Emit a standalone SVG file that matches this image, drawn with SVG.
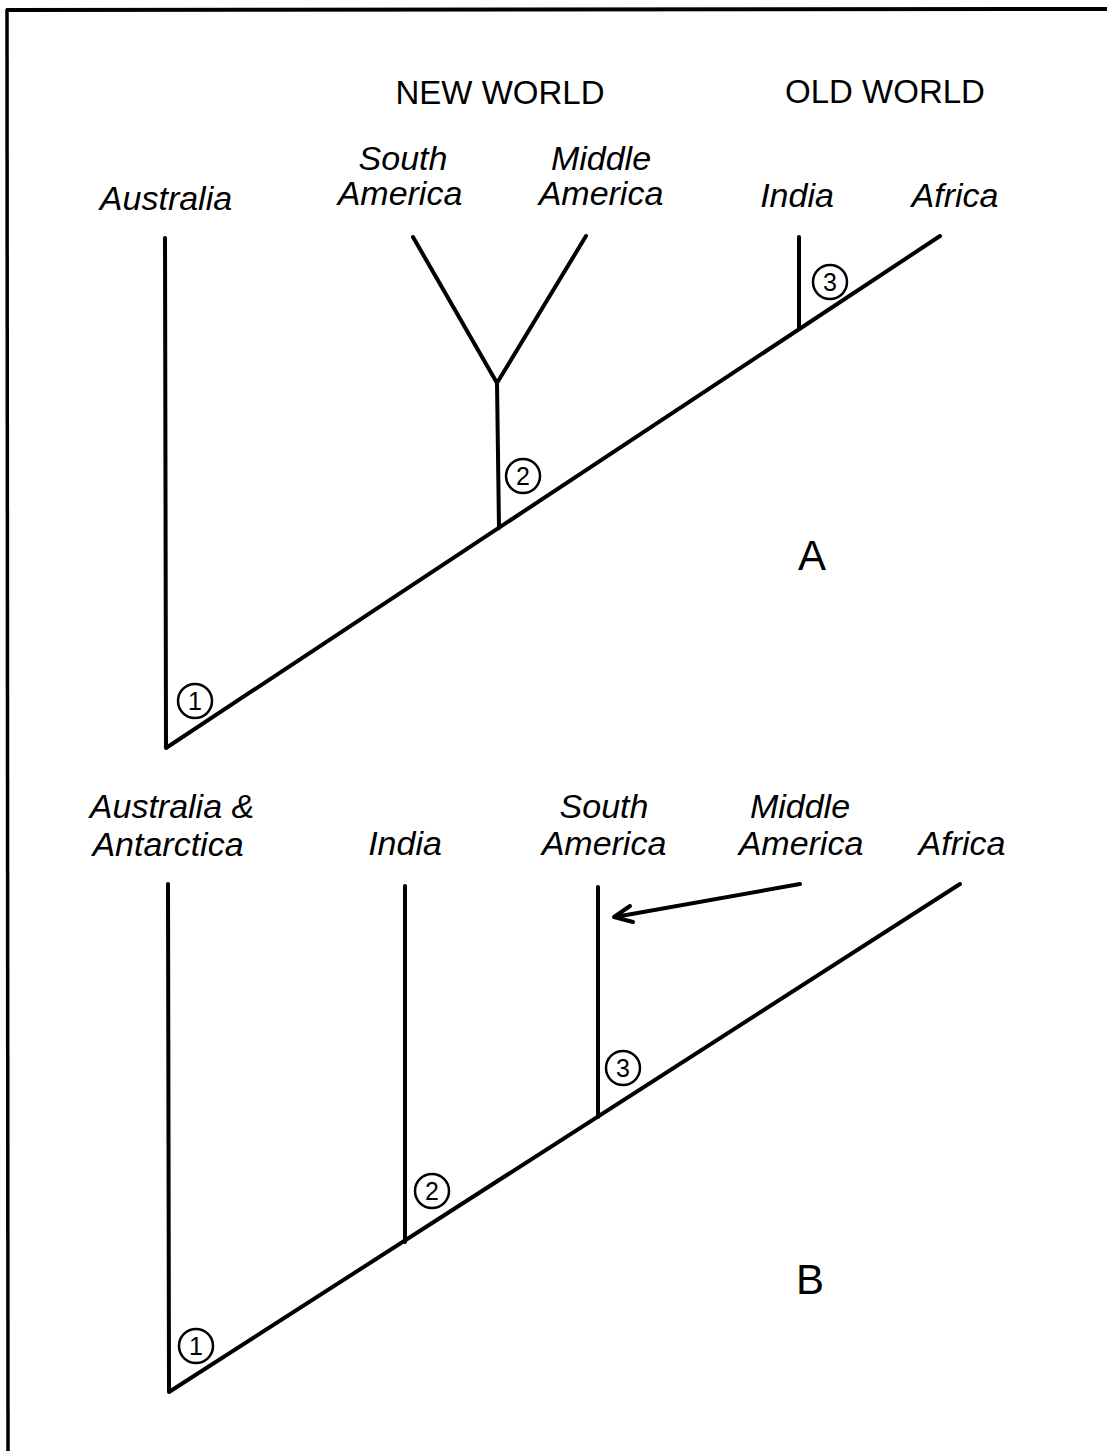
<svg xmlns="http://www.w3.org/2000/svg" width="1107" height="1451" viewBox="0 0 1107 1451">
<defs>
<style>
.ln{stroke:#000;stroke-width:4;fill:none;stroke-linecap:round;stroke-linejoin:round}
.c{stroke:#000;stroke-width:2.5;fill:#fff}
.t{font-family:"Liberation Sans",Arial,sans-serif;font-size:34px;font-style:italic;text-anchor:middle;fill:#000}
.h{font-family:"Liberation Sans",Arial,sans-serif;font-size:33px;text-anchor:middle;fill:#000}
.big{font-family:"Liberation Sans",Arial,sans-serif;font-size:42px;text-anchor:middle;fill:#000}
.n{font-family:"Liberation Sans",Arial,sans-serif;font-size:25px;text-anchor:middle;fill:#000}
</style>
</defs>
<rect width="1107" height="1451" fill="#fff"/>
<g id="frame">
<line x1="6" y1="10" x2="1107" y2="9" stroke="#000" stroke-width="4"/>
<line x1="7" y1="9" x2="8" y2="1451" stroke="#000" stroke-width="3.5"/>
</g>
<g id="connectors">
<path class="ln" d="M165,238 L166,748 L940,236"/>
<path class="ln" d="M499,528 L497,383"/>
<path class="ln" d="M413,237 L497,383 L586,236"/>
<path class="ln" d="M799,329 L799,237"/>
<path class="ln" d="M168,884 L169,1392 L960,884"/>
<path class="ln" d="M405,1242 L405,886"/>
<path class="ln" d="M598,1117 L598,887"/>
<path class="ln" d="M800,884 L615,917"/>
<path class="ln" d="M630,906 L614,917 L633,922"/>
</g>
<g id="labelsA">
<text class="h" x="500" y="104">NEW WORLD</text>
<text class="h" x="885" y="103">OLD WORLD</text>
<text class="t" x="166" y="210">Australia</text>
<text class="t" x="403" y="170">South</text>
<text class="t" x="400" y="205">America</text>
<text class="t" x="601" y="170">Middle</text>
<text class="t" x="601" y="205">America</text>
<text class="t" x="797" y="207">India</text>
<text class="t" x="955" y="207">Africa</text>
<text class="big" x="812" y="570">A</text>
</g>
<g id="node-A1"><circle class="c" cx="195" cy="701" r="17"/><text class="n" x="195" y="710">1</text></g>
<g id="node-A2"><circle class="c" cx="523" cy="476" r="17"/><text class="n" x="523" y="485">2</text></g>
<g id="node-A3"><circle class="c" cx="830" cy="282" r="17"/><text class="n" x="830" y="291">3</text></g>
<g id="labelsB">
<text class="t" x="172" y="818">Australia &amp;</text>
<text class="t" x="168" y="856">Antarctica</text>
<text class="t" x="405" y="855">India</text>
<text class="t" x="604" y="818">South</text>
<text class="t" x="604" y="855">America</text>
<text class="t" x="800" y="818">Middle</text>
<text class="t" x="801" y="855">America</text>
<text class="t" x="962" y="855">Africa</text>
<text class="big" x="810" y="1294">B</text>
</g>
<g id="node-B1"><circle class="c" cx="196" cy="1346" r="17"/><text class="n" x="196" y="1355">1</text></g>
<g id="node-B2"><circle class="c" cx="432" cy="1191" r="17"/><text class="n" x="432" y="1200">2</text></g>
<g id="node-B3"><circle class="c" cx="623" cy="1068" r="17"/><text class="n" x="623" y="1077">3</text></g>
</svg>
